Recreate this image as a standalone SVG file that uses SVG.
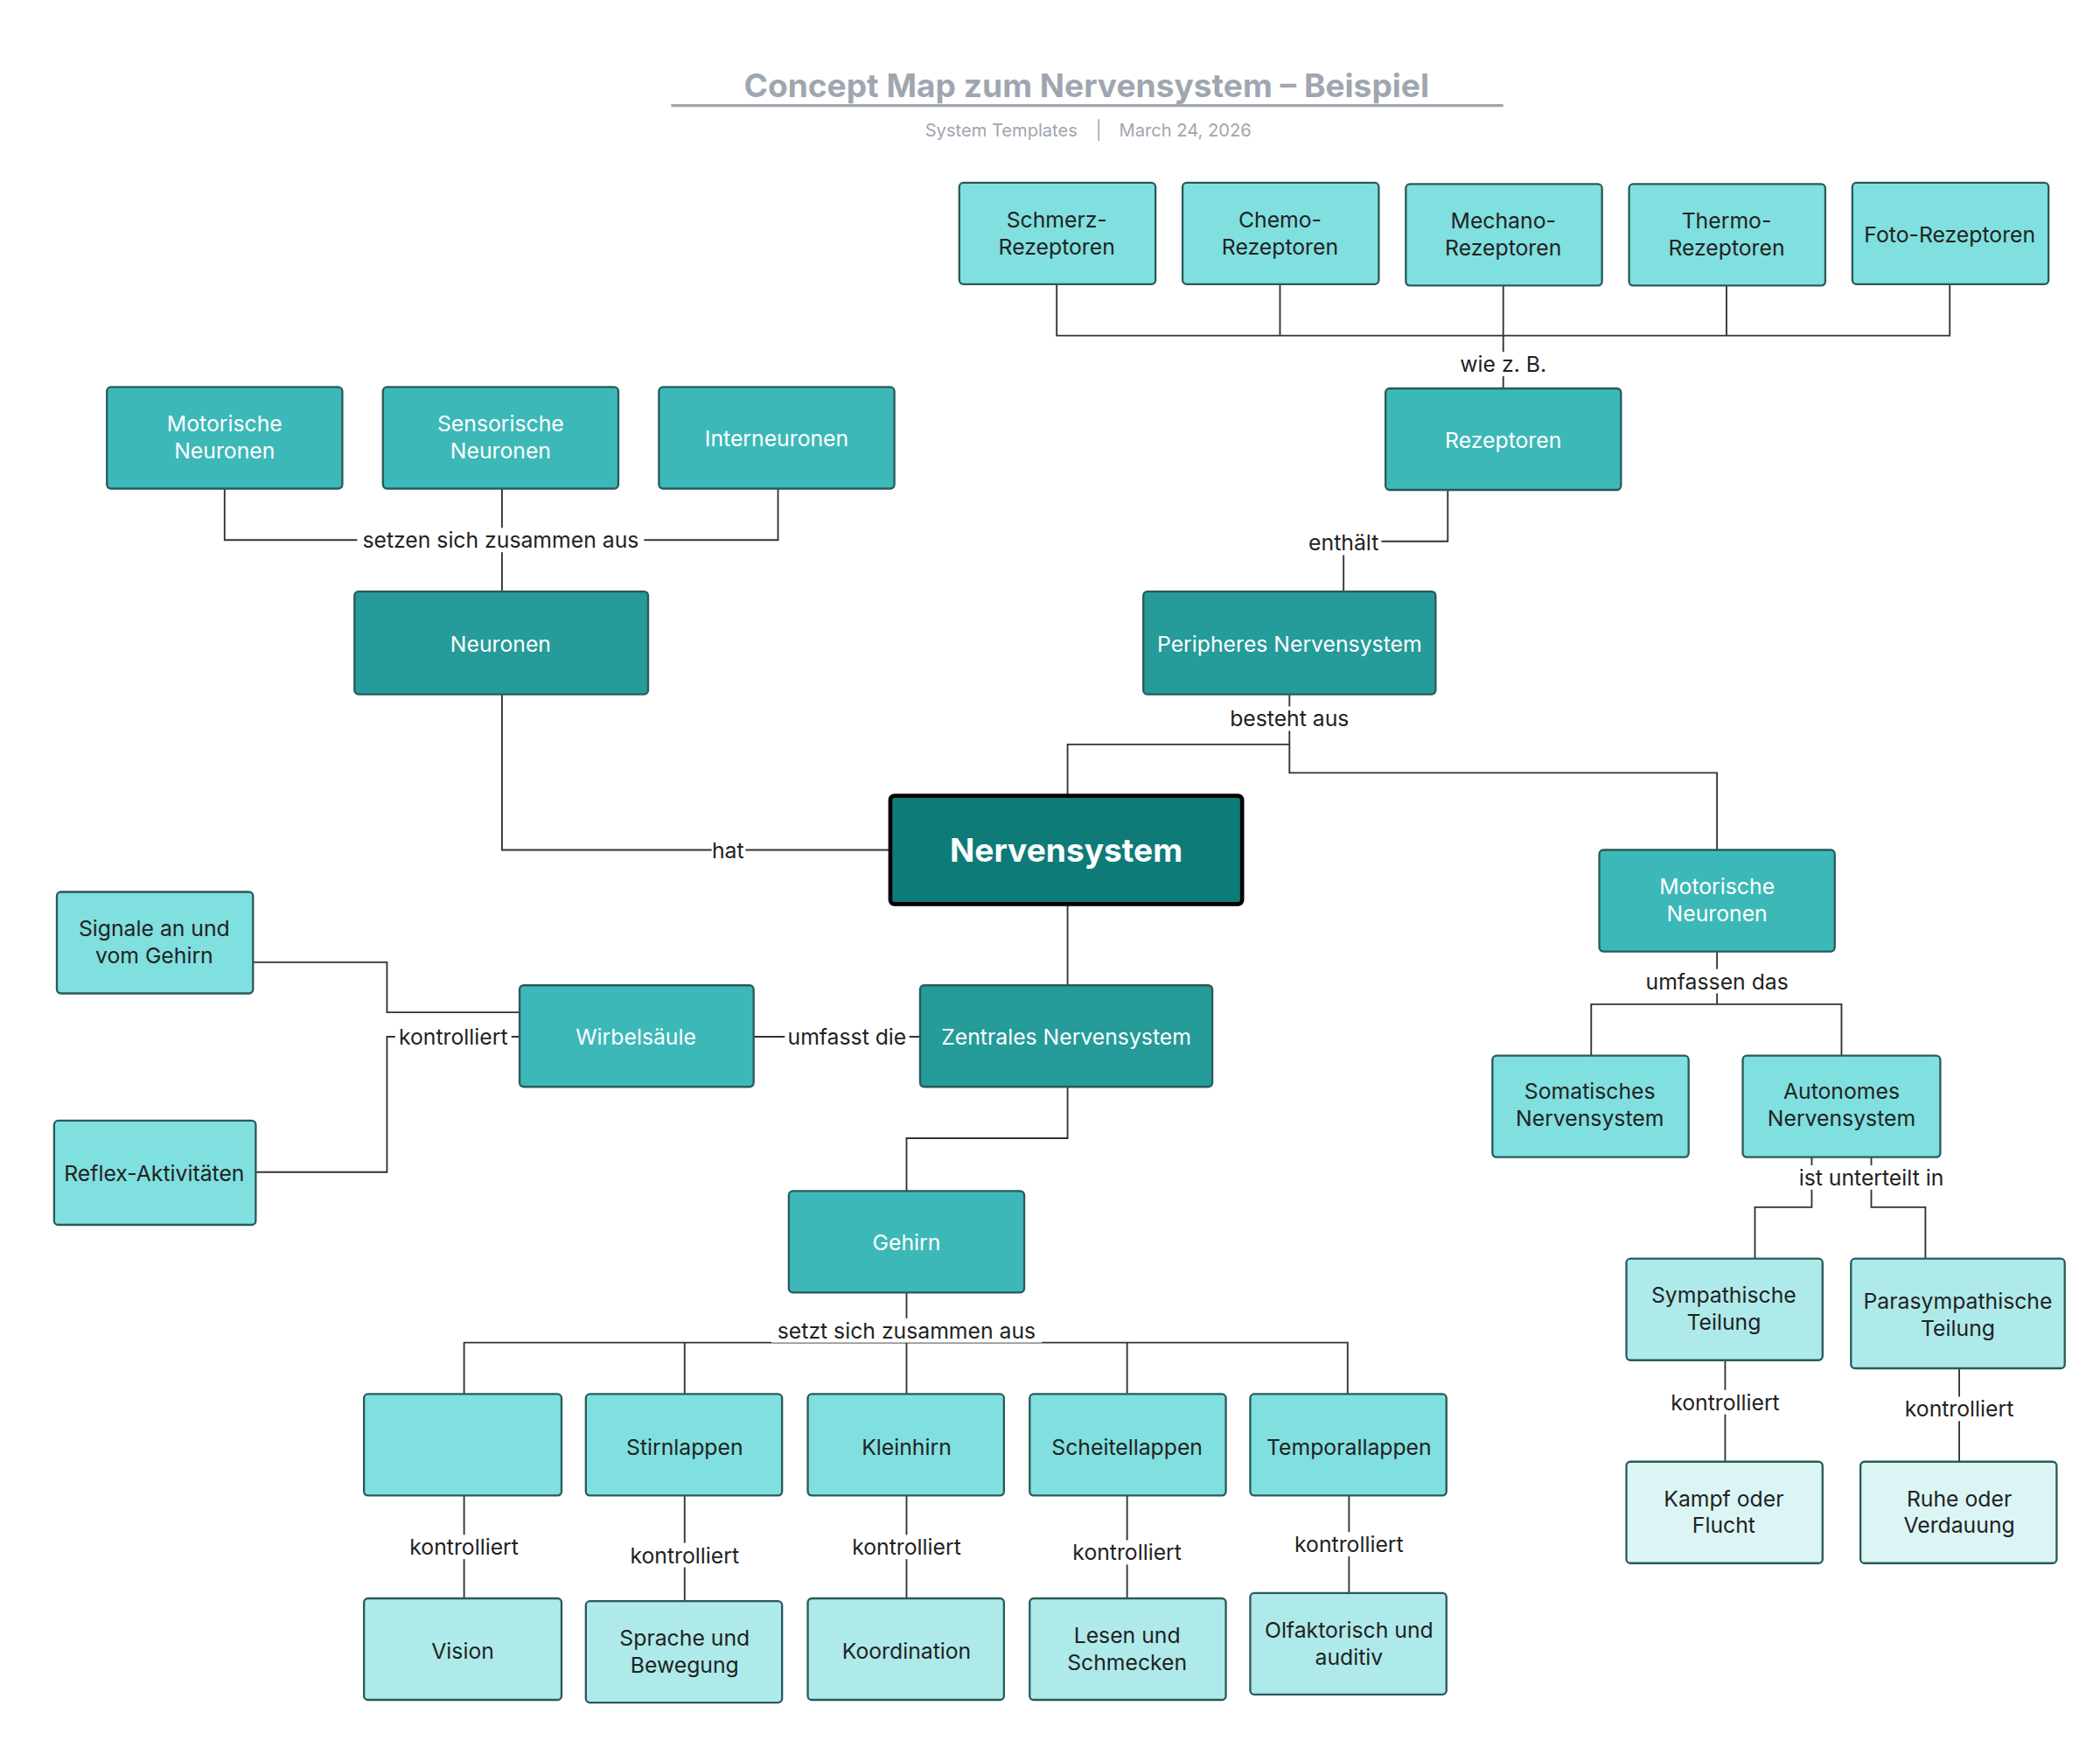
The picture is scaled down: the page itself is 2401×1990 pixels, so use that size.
<svg xmlns="http://www.w3.org/2000/svg" width="2401" height="1990" viewBox="0 0 2401 1990">
<style>
text{font-family:Inter,"Noto Sans","Liberation Sans",sans-serif;text-anchor:middle;dominant-baseline:central}
.n rect{stroke:#2a5a5a;stroke-width:1.5}
.c1 rect{fill:#259b9a}.c2 rect{fill:#3db8b8}.c3 rect{fill:#80dfdf}.c4 rect{fill:#aeeaea}.c5 rect{fill:#dbf5f5}
.w text{fill:#fff;font-size:16px}
.d text{fill:#222;font-size:16px}
#edges path{fill:none;stroke:#333;stroke-width:1.2}
.lb{font-size:16px;fill:#222}
.bg{fill:#fff}
</style>
<rect width="2401" height="1990" fill="#fff"/>
<g transform="scale(1.547)">
<text x="803" y="63" font-size="24" font-weight="bold" fill="#a0a6b0">Concept Map zum Nervensystem – Beispiel</text>
<line x1="496" y1="78" x2="1111" y2="78" stroke="#a0a6b0" stroke-width="2"/>
<text x="740" y="96" font-size="13" fill="#a0a6b0">System Templates</text>
<line x1="812" y1="88" x2="812" y2="104" stroke="#a0a6b0"/>
<text x="876" y="96" font-size="13" fill="#a0a6b0">March 24, 2026</text>

<g id="edges">
<path d="M781 210V248H1441V210M946 210V248M1276 211V248M1111 211V287"/>
<path d="M1070 362V400H1020M993 410V437"/>
<path d="M953 513V550H789V588M953 550V571H1269V628"/>
<path d="M166 361V399H575V361M371 361V437"/>
<path d="M371 513V628H658"/>
<path d="M1269 703V742M1176 780V742H1361V780"/>
<path d="M1339 855V892H1297V930M1383 855V892H1423V930"/>
<path d="M1275 1005V1080M1448 1011V1080"/>
<path d="M789 668V728M557 766H680"/>
<path d="M187 711H286V748H384M189 866H286V766H384"/>
<path d="M789 803V841H670V880M670 955V1030M343 1030V992H996V1030M506 992V1030M833 992V1030"/>
<path d="M343 1105V1181M506 1105V1183M670 1105V1181M833 1105V1181M997 1105V1177"/>
<rect class="bg" x="1076" y="260" width="70" height="18"/>
<text class="lb" x="1111" y="269">wie z. B.</text>
<rect class="bg" x="965" y="392" width="56" height="18"/>
<text class="lb" x="993" y="401">enthält</text>
<rect class="bg" x="905" y="522" width="96" height="18"/>
<text class="lb" x="953" y="531">besteht aus</text>
<rect class="bg" x="264" y="390" width="212" height="18"/>
<text class="lb" x="370" y="399">setzen sich zusammen aus</text>
<rect class="bg" x="526" y="619" width="25" height="18"/>
<text class="lb" x="538" y="628">hat</text>
<rect class="bg" x="1212" y="716" width="114" height="18"/>
<text class="lb" x="1269" y="725">umfassen das</text>
<rect class="bg" x="1326" y="861" width="114" height="18"/>
<text class="lb" x="1383" y="870">ist unterteilt in</text>
<rect class="bg" x="1232" y="1027" width="86" height="18"/>
<text class="lb" x="1275" y="1036">kontrolliert</text>
<rect class="bg" x="1405" y="1032" width="86" height="18"/>
<text class="lb" x="1448" y="1041">kontrolliert</text>
<rect class="bg" x="580" y="757" width="92" height="18"/>
<text class="lb" x="626" y="766">umfasst die</text>
<rect class="bg" x="292" y="757" width="86" height="18"/>
<text class="lb" x="335" y="766">kontrolliert</text>
<rect class="bg" x="570" y="974" width="200" height="18"/>
<text class="lb" x="670" y="983">setzt sich zusammen aus</text>
<rect class="bg" x="300" y="1134" width="86" height="18"/>
<text class="lb" x="343" y="1143">kontrolliert</text>
<rect class="bg" x="463" y="1140" width="86" height="18"/>
<text class="lb" x="506" y="1149">kontrolliert</text>
<rect class="bg" x="627" y="1134" width="86" height="18"/>
<text class="lb" x="670" y="1143">kontrolliert</text>
<rect class="bg" x="790" y="1138" width="86" height="18"/>
<text class="lb" x="833" y="1147">kontrolliert</text>
<rect class="bg" x="954" y="1132" width="86" height="18"/>
<text class="lb" x="997" y="1141">kontrolliert</text>
</g>

<g id="n-schmerz" class="n c3 d"><rect x="709" y="135" width="145" height="75" rx="3"/><text x="781" y="162">Schmerz-</text><text x="781" y="182">Rezeptoren</text></g>
<g id="n-chemo" class="n c3 d"><rect x="874" y="135" width="145" height="75" rx="3"/><text x="946" y="162">Chemo-</text><text x="946" y="182">Rezeptoren</text></g>
<g id="n-mechano" class="n c3 d"><rect x="1039" y="136" width="145" height="75" rx="3"/><text x="1111" y="163">Mechano-</text><text x="1111" y="183">Rezeptoren</text></g>
<g id="n-thermo" class="n c3 d"><rect x="1204" y="136" width="145" height="75" rx="3"/><text x="1276" y="163">Thermo-</text><text x="1276" y="183">Rezeptoren</text></g>
<g id="n-foto" class="n c3 d"><rect x="1369" y="135" width="145" height="75" rx="3"/><text x="1441" y="173">Foto-Rezeptoren</text></g>
<g id="n-rezeptoren" class="n c2 w"><rect x="1024" y="287" width="174" height="75" rx="3"/><text x="1111" y="325">Rezeptoren</text></g>
<g id="n-pns" class="n c1 w"><rect x="845" y="437" width="216" height="76" rx="3"/><text x="953" y="476">Peripheres Nervensystem</text></g>
<g id="n-motneur1" class="n c2 w"><rect x="79" y="286" width="174" height="75" rx="3"/><text x="166" y="313">Motorische</text><text x="166" y="333">Neuronen</text></g>
<g id="n-sensneur" class="n c2 w"><rect x="283" y="286" width="174" height="75" rx="3"/><text x="370" y="313">Sensorische</text><text x="370" y="333">Neuronen</text></g>
<g id="n-interneur" class="n c2 w"><rect x="487" y="286" width="174" height="75" rx="3"/><text x="574" y="324">Interneuronen</text></g>
<g id="n-neuronen" class="n c1 w"><rect x="262" y="437" width="217" height="76" rx="3"/><text x="370" y="476">Neuronen</text></g>
<g id="n-nervensystem"><rect x="658" y="588" width="260" height="80" rx="3" fill="#0f7b78" stroke="#000" stroke-width="3"/><text x="788" y="628" font-size="24" font-weight="bold" fill="#fff">Nervensystem</text></g>
<g id="n-motneur2" class="n c2 w"><rect x="1182" y="628" width="174" height="75" rx="3"/><text x="1269" y="655">Motorische</text><text x="1269" y="675">Neuronen</text></g>
<g id="n-somatisch" class="n c3 d"><rect x="1103" y="780" width="145" height="75" rx="3"/><text x="1175" y="806">Somatisches</text><text x="1175" y="826">Nervensystem</text></g>
<g id="n-autonom" class="n c3 d"><rect x="1288" y="780" width="146" height="75" rx="3"/><text x="1361" y="806">Autonomes</text><text x="1361" y="826">Nervensystem</text></g>
<g id="n-sympath" class="n c4 d"><rect x="1202" y="930" width="145" height="75" rx="3"/><text x="1274" y="957">Sympathische</text><text x="1274" y="977">Teilung</text></g>
<g id="n-parasym" class="n c4 d"><rect x="1368" y="930" width="158" height="81" rx="3"/><text x="1447" y="961">Parasympathische</text><text x="1447" y="981">Teilung</text></g>
<g id="n-kampf" class="n c5 d"><rect x="1202" y="1080" width="145" height="75" rx="3"/><text x="1274" y="1107">Kampf oder</text><text x="1274" y="1127">Flucht</text></g>
<g id="n-ruhe" class="n c5 d"><rect x="1375" y="1080" width="145" height="75" rx="3"/><text x="1448" y="1107">Ruhe oder</text><text x="1448" y="1127">Verdauung</text></g>
<g id="n-zns" class="n c1 w"><rect x="680" y="728" width="216" height="75" rx="3"/><text x="788" y="766">Zentrales Nervensystem</text></g>
<g id="n-wirbel" class="n c2 w"><rect x="384" y="728" width="173" height="75" rx="3"/><text x="470" y="766">Wirbelsäule</text></g>
<g id="n-signale" class="n c3 d"><rect x="42" y="659" width="145" height="75" rx="3"/><text x="114" y="686">Signale an und</text><text x="114" y="706">vom Gehirn</text></g>
<g id="n-reflex" class="n c3 d"><rect x="40" y="828" width="149" height="77" rx="3"/><text x="114" y="867">Reflex-Aktivitäten</text></g>
<g id="n-gehirn" class="n c2 w"><rect x="583" y="880" width="174" height="75" rx="3"/><text x="670" y="918">Gehirn</text></g>
<g id="n-lobe0" class="n c3 d"><rect x="269" y="1030" width="146" height="75" rx="3"/></g>
<g id="n-stirn" class="n c3 d"><rect x="433" y="1030" width="145" height="75" rx="3"/><text x="506" y="1069">Stirnlappen</text></g>
<g id="n-klein" class="n c3 d"><rect x="597" y="1030" width="145" height="75" rx="3"/><text x="670" y="1069">Kleinhirn</text></g>
<g id="n-scheitel" class="n c3 d"><rect x="761" y="1030" width="145" height="75" rx="3"/><text x="833" y="1069">Scheitellappen</text></g>
<g id="n-temporal" class="n c3 d"><rect x="924" y="1030" width="145" height="75" rx="3"/><text x="997" y="1069">Temporallappen</text></g>
<g id="n-vision" class="n c4 d"><rect x="269" y="1181" width="146" height="75" rx="3"/><text x="342" y="1220">Vision</text></g>
<g id="n-sprache" class="n c4 d"><rect x="433" y="1183" width="145" height="75" rx="3"/><text x="506" y="1210">Sprache und</text><text x="506" y="1230">Bewegung</text></g>
<g id="n-koord" class="n c4 d"><rect x="597" y="1181" width="145" height="75" rx="3"/><text x="670" y="1220">Koordination</text></g>
<g id="n-lesen" class="n c4 d"><rect x="761" y="1181" width="145" height="75" rx="3"/><text x="833" y="1208">Lesen und</text><text x="833" y="1228">Schmecken</text></g>
<g id="n-olf" class="n c4 d"><rect x="924" y="1177" width="145" height="75" rx="3"/><text x="997" y="1204">Olfaktorisch und</text><text x="997" y="1224">auditiv</text></g>
</g>
</svg>
